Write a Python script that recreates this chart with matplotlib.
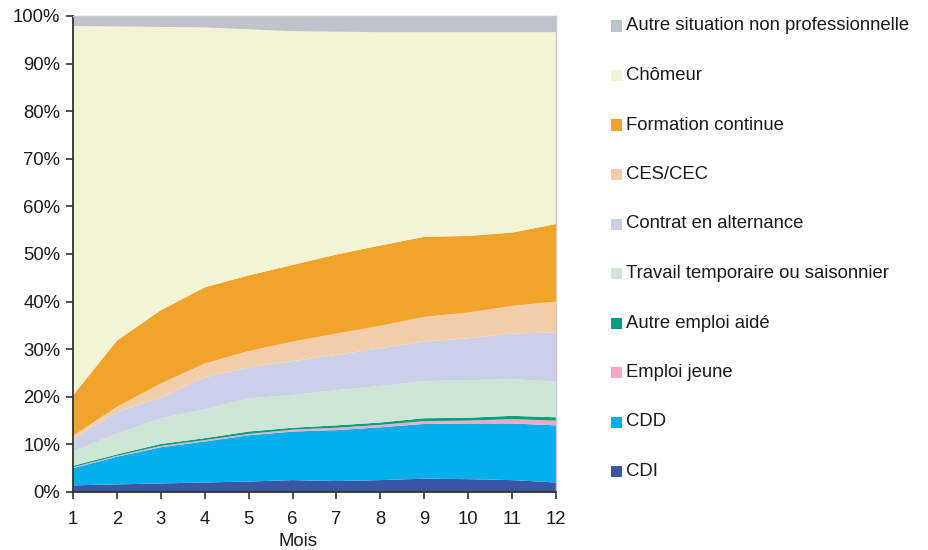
import matplotlib.pyplot as plt
from matplotlib.patches import Rectangle
from matplotlib.ticker import PercentFormatter

plt.rcParams['font.family'] = ['Liberation Sans', 'DejaVu Sans']

# Données (en % des jeunes), mois 1 à 12
mois = [1, 2, 3, 4, 5, 6, 7, 8, 9, 10, 11, 12]
cdi = [1.4, 1.6, 1.8, 2.0, 2.2, 2.5, 2.3, 2.5, 2.8, 2.7, 2.5, 2.0]
cdd = [3.6, 5.8, 7.6, 8.6, 9.7, 10.2, 10.7, 11.1, 11.5, 11.7, 11.9, 12.0]
emploi_jeune = [0.2, 0.2, 0.3, 0.3, 0.3, 0.4, 0.5, 0.5, 0.6, 0.6, 0.9, 1.0]
autre_aide = [0.3, 0.3, 0.4, 0.4, 0.5, 0.4, 0.5, 0.5, 0.6, 0.6, 0.7, 0.7]
temporaire = [3.0, 4.4, 5.4, 6.1, 7.0, 6.9, 7.4, 7.7, 7.8, 7.9, 7.7, 7.5]
alternance = [2.6, 4.5, 4.3, 6.7, 6.5, 7.1, 7.4, 7.9, 8.3, 8.8, 9.6, 10.3]
ces_cec = [0.7, 1.1, 3.0, 2.9, 3.4, 4.1, 4.5, 4.7, 5.2, 5.4, 5.8, 6.5]
formation = [8.5, 13.9, 15.4, 16.0, 15.9, 16.1, 16.6, 16.9, 16.8, 16.1, 15.4, 16.3]
chomeur = [77.6, 66.0, 59.5, 54.6, 51.7, 49.1, 46.8, 44.8, 43.0, 42.8, 42.1, 40.3]
autre_situation = [2.1, 2.2, 2.3, 2.4, 2.8, 3.2, 3.3, 3.4, 3.4, 3.4, 3.4, 3.4]

series = [cdi, cdd, emploi_jeune, autre_aide, temporaire, alternance,
          ces_cec, formation, chomeur, autre_situation]
labels = ['CDI', 'CDD', 'Emploi jeune', 'Autre emploi aidé',
          'Travail temporaire ou saisonnier', 'Contrat en alternance',
          'CES/CEC', 'Formation continue', 'Chômeur',
          'Autre situation non professionnelle']
colors = ['#3b56a3', '#00b0ec', '#f1a9c5', '#00a37b', '#cde6d6',
          '#cbcfe8', '#f2cdaa', '#f0a42b', '#f3f3d6', '#bfc3cb']

fs = 13.3

fig = plt.figure(figsize=(9.29, 5.5), dpi=100)
ax = fig.add_axes([73 / 929, 1 - 492 / 550, (556 - 73) / 929, (492 - 16) / 550])

ax.stackplot(mois, *series, colors=colors, linewidth=0)

ax.set_xlim(1, 12)
ax.set_ylim(0, 100)
ax.set_xticks(mois)
ax.set_yticks(range(0, 101, 10))
ax.yaxis.set_major_formatter(PercentFormatter(decimals=0))
ax.tick_params(labelsize=fs, length=5, width=1.2, color='#333333', labelcolor='#1a1a1a')
ax.tick_params(axis='x', pad=9)
ax.tick_params(axis='y', pad=4)

for s in ['left', 'bottom']:
    ax.spines[s].set_color('#333333')
    ax.spines[s].set_linewidth(1.3)
for s in ['top', 'right']:
    ax.spines[s].set_color('#c8c8c8')
    ax.spines[s].set_linewidth(1.0)

fig.text(298 / 929, 1 - 541 / 550, 'Mois', ha='center', va='center', fontsize=fs, color='#1a1a1a')

# Légende (ordre inverse de l'empilement)
y0 = 26
for i, (lab, col) in enumerate(zip(labels[::-1], colors[::-1])):
    y = y0 + i * 49.5
    fig.add_artist(Rectangle((611 / 929, 1 - (y + 5.5) / 550), 11 / 929, 11 / 550,
                             transform=fig.transFigure, color=col, lw=0))
    fig.text(626 / 929, 1 - y / 550, lab, ha='left', va='center', fontsize=fs, color='#1a1a1a')

fig.savefig('out.png', dpi=100)
